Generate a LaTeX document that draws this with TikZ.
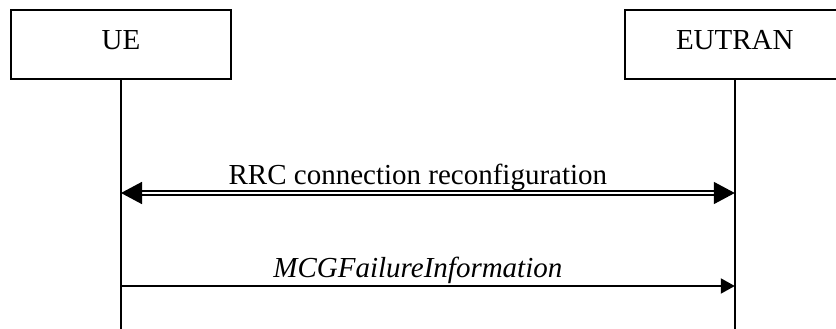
\documentclass[tikz,border=0pt]{standalone}
\usepackage{fontspec}
\setmainfont{Liberation Serif}
\usetikzlibrary{arrows.meta, positioning}

\begin{document}
\begin{tikzpicture}[x=1pt, y=1pt, font=\fontsize{29}{34}\selectfont,
        entity/.style={draw, line width=1.8pt, minimum width=220pt, minimum height=69pt,
          text height=19pt, text depth=8pt, inner sep=0pt},
        lifeline/.style={line width=2pt},
        dblarr/.style={double, double distance=2.6pt, line width=1.5pt,
          {Triangle[length=21pt,width=22pt]}-{Triangle[length=21pt,width=22pt]}},
        arr/.style={line width=2pt, -{Triangle[length=14pt,width=15pt]}},
        msg/.style={anchor=base, xshift=-10pt, yshift=9pt}]
        \useasboundingbox (0,0) rectangle (836,-329);
        \clip (0,0) rectangle (836,-329);
        \node[entity] (ue) at (121,-44.5) {UE};
        \node[entity, right=392pt of ue] (eutran) {EUTRAN};
        % lifelines
        \coordinate (ueend) at (ue.south |- 0,-329);
        \coordinate (eutranend) at (eutran.south |- 0,-329);
        \draw[lifeline] (ue.south) -- (ueend);
        \draw[lifeline] (eutran.south) -- (eutranend);
        % messages
        \coordinate (ue1) at (ue.south |- 0,-193);
        \coordinate (eutran1) at (eutran.south |- 0,-193);
        \coordinate (ue2) at (ue.south |- 0,-286);
        \coordinate (eutran2) at (eutran.south |- 0,-286);
        \draw[dblarr] (ue1) -- (eutran1) node[midway, msg] (rrc) {RRC connection reconfiguration};
        \draw[arr] (ue2) -- (eutran2) node[midway, msg] (mcg) {\itshape MCGFailureInformation};
      \end{tikzpicture}
\end{document}
